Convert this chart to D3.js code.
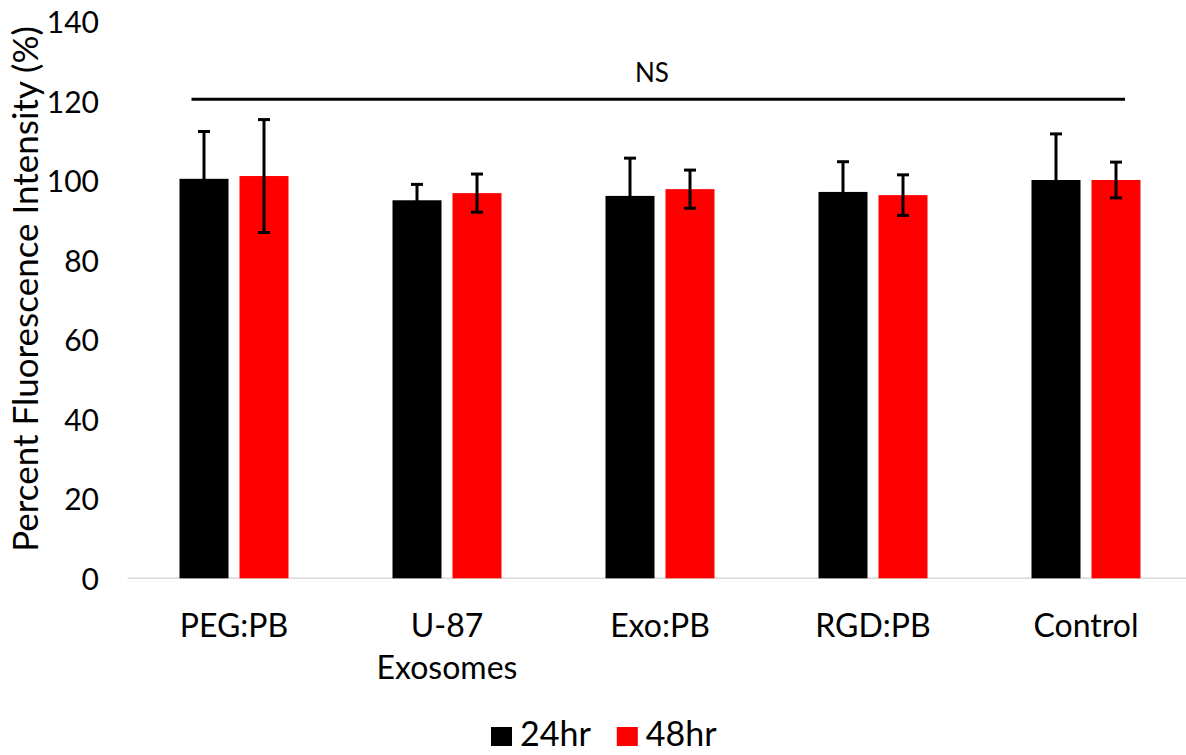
<!DOCTYPE html>
<html>
<head>
<meta charset="utf-8">
<script src="https://cdn.jsdelivr.net/npm/d3@7"></script>
<style>
  html, body { margin: 0; padding: 0; background: #fff; }
  svg { display: block; font-family: Lato, "Open Sans", sans-serif; }
</style>
</head>
<body>
<svg id="chart" width="1186" height="755"></svg>
<script>
// Treatment groups and time points
const categories = [["PEG:PB"], ["U-87", "Exosomes"], ["Exo:PB"], ["RGD:PB"], ["Control"]];
const categoryKeys = ["PEG:PB", "U-87 Exosomes", "Exo:PB", "RGD:PB", "Control"];
const seriesNames = ["24hr", "48hr"];
const seriesColors = ["#000000", "#ff0000"];

// Mean percent fluorescence intensity and error (SD) per group
const mean24 = [100.5, 95.1, 96.2, 97.2, 100.2];
const err24 = [11.9, 4.0, 9.5, 7.6, 11.6];
const mean48 = [101.2, 96.9, 97.9, 96.4, 100.2];
const err48 = [14.2, 4.8, 4.8, 5.1, 4.5];

const yTicks = [0, 20, 40, 60, 80, 100, 120, 140];
const nsLevel = 120.5;
const nsLabel = "NS";

const svg = d3.select("#chart");

const y = d3.scaleLinear().domain([0, 140]).range([578.3, 21.8]);
const x0 = d3.scaleBand().domain(categoryKeys).range([127.5, 1192.5]).padding(0);
const x1 = d3.scaleBand().domain(seriesNames)
  .range([x0.bandwidth() / 2 - 54.5, x0.bandwidth() / 2 + 54.5])
  .paddingInner(0.1833).paddingOuter(0);

const rows = categoryKeys.map((k, i) => ({
  key: k,
  values: [
    { s: seriesNames[0], m: mean24[i], e: err24[i], c: seriesColors[0] },
    { s: seriesNames[1], m: mean48[i], e: err48[i], c: seriesColors[1] }
  ]
}));

// Y axis labels (no line, no ticks)
const yAxis = svg.append("g")
  .attr("transform", `translate(128,0)`)
  .call(d3.axisLeft(y).tickValues(yTicks).tickSize(0).tickPadding(29));
yAxis.select(".domain").remove();
yAxis.selectAll("text")
  .attr("font-family", "Lato, 'Open Sans', sans-serif")
  .attr("font-size", 30)
  .attr("fill", "#000")
  .attr("dy", "0.36em");

// Y axis title
svg.append("text")
  .attr("transform", `translate(38,${289}) rotate(-90)`)
  .attr("text-anchor", "middle")
  .attr("font-size", 35)
  .attr("fill", "#000")
  .text("Percent Fluorescence Intensity (%)");

// Baseline
svg.append("line")
  .attr("x1", x0.range()[0]).attr("x2", 1186)
  .attr("y1", y(0)).attr("y2", y(0))
  .attr("stroke", "#d9d9d9").attr("stroke-width", 1.5);

// Bars
const groups = svg.append("g").selectAll("g")
  .data(rows).join("g")
  .attr("transform", d => `translate(${x0(d.key)},0)`);

groups.selectAll("rect")
  .data(d => d.values).join("rect")
  .attr("x", d => x1(d.s))
  .attr("width", x1.bandwidth())
  .attr("y", d => y(d.m))
  .attr("height", d => y(0) - y(d.m))
  .attr("fill", d => d.c);

// Error bars
const eb = groups.selectAll("g.err")
  .data(d => d.values).join("g").attr("class", "err");
const cap = 6;
const cx = d => x1(d.s) + x1.bandwidth() / 2;
eb.append("line")
  .attr("x1", cx).attr("x2", cx)
  .attr("y1", d => y(d.m + d.e))
  .attr("y2", d => y(d.m - d.e))
  .attr("stroke", "#000").attr("stroke-width", 3);
eb.append("line")
  .attr("x1", d => cx(d) - cap).attr("x2", d => cx(d) + cap)
  .attr("y1", d => y(d.m + d.e)).attr("y2", d => y(d.m + d.e))
  .attr("stroke", "#000").attr("stroke-width", 3);
eb.append("line")
  .attr("x1", d => cx(d) - cap).attr("x2", d => cx(d) + cap)
  .attr("y1", d => y(d.m - d.e)).attr("y2", d => y(d.m - d.e))
  .attr("stroke", "#000").attr("stroke-width", 3);

// Category labels (multi-line)
const catLabels = svg.append("g").selectAll("text")
  .data(categories).join("text")
  .attr("x", (d, i) => x0(categoryKeys[i]) + x0.bandwidth() / 2)
  .attr("y", 637)
  .attr("text-anchor", "middle")
  .attr("font-size", 32)
  .attr("fill", "#000");
catLabels.selectAll("tspan")
  .data(d => d).join("tspan")
  .attr("x", function () { return d3.select(this.parentNode).attr("x"); })
  .attr("dy", (d, i) => i === 0 ? 0 : 42)
  .text(d => d);

// Significance bracket spanning all groups
const nsX1 = x0(categoryKeys[0]) + x1(seriesNames[0]) + 12;
const nsX2 = x0(categoryKeys[4]) + x1(seriesNames[1]) + x1.bandwidth() / 2 + 9;
svg.append("line")
  .attr("x1", nsX1).attr("x2", nsX2)
  .attr("y1", y(nsLevel)).attr("y2", y(nsLevel))
  .attr("stroke", "#000").attr("stroke-width", 3);
svg.append("text")
  .attr("x", 652).attr("y", 82)
  .attr("text-anchor", "middle")
  .attr("font-size", 26)
  .attr("fill", "#000")
  .text(nsLabel);

// Legend
const legend = svg.append("g");
let lx = 491;
seriesNames.forEach((name, i) => {
  legend.append("rect")
    .attr("x", lx).attr("y", 727)
    .attr("width", 21).attr("height", 19)
    .attr("fill", seriesColors[i]);
  const t = legend.append("text")
    .attr("x", lx + 29).attr("y", 746)
    .attr("font-size", 34)
    .attr("fill", "#000")
    .text(name);
  lx = lx + 29 + t.node().getComputedTextLength() + 26;
});
</script>
</body>
</html>
